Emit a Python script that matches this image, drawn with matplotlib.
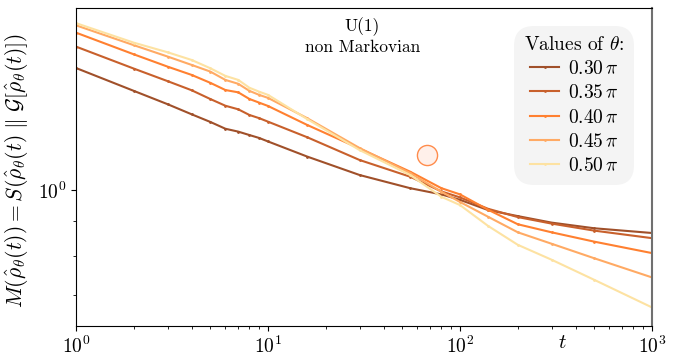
import matplotlib
matplotlib.use("Agg")
import matplotlib.pyplot as plt

plt.rcParams['font.family'] = 'serif'
plt.rcParams['font.serif'] = ['cmr10']
plt.rcParams['mathtext.fontset'] = 'cm'
plt.rcParams['axes.formatter.use_mathtext'] = True

# values (log-log)
t = [1, 2, 3, 4, 5, 6, 7, 8, 9, 10, 16, 30, 55, 80, 100, 140, 200, 300, 500, 1000]
m_030 = [1.513, 1.400, 1.338, 1.293, 1.260, 1.231, 1.219, 1.205, 1.193, 1.179,
         1.120, 1.052, 1.006, 0.985, 0.967, 0.934, 0.915, 0.895, 0.878, 0.864]
m_035 = [1.627, 1.510, 1.447, 1.403, 1.362, 1.331, 1.315, 1.290, 1.276, 1.261,
         1.196, 1.107, 1.046, 0.995, 0.975, 0.938, 0.912, 0.892, 0.871, 0.849]
m_040 = [1.706, 1.585, 1.520, 1.478, 1.439, 1.404, 1.393, 1.362, 1.345, 1.330,
         1.247, 1.151, 1.064, 1.006, 0.985, 0.935, 0.890, 0.866, 0.839, 0.807]
m_045 = [1.749, 1.635, 1.573, 1.529, 1.495, 1.453, 1.434, 1.400, 1.381, 1.367,
         1.276, 1.153, 1.059, 0.994, 0.960, 0.913, 0.866, 0.833, 0.793, 0.743]
m_050 = [1.762, 1.649, 1.596, 1.555, 1.512, 1.473, 1.453, 1.415, 1.396, 1.381,
         1.272, 1.145, 1.052, 0.977, 0.950, 0.885, 0.830, 0.789, 0.737, 0.671]

series = [m_030, m_035, m_040, m_045, m_050]
labels = [r'$0.30\,\pi$', r'$0.35\,\pi$', r'$0.40\,\pi$', r'$0.45\,\pi$', r'$0.50\,\pi$']
colors = ['#a0502a', '#c8602c', '#ff8030', '#ffaa64', '#fde2a2']

# highlighted point
mark_t = [67.3]
mark_m = [1.126]

fig = plt.figure(figsize=(6.94, 3.57), dpi=100)
ax = fig.add_axes([0.1095, 0.0868, 0.83, 0.8908])

for y, lab, c in zip(series, labels, colors):
    ax.plot(t, y, color=c, lw=1.5, marker='.', ms=2, label=lab)

ax.plot(mark_t, mark_m, 'o', ms=14.5, mfc='#fff0ea', mec='#ff8c4c', mew=1.0, zorder=5)

ax.set_xscale('log')
ax.set_yscale('log')
ax.set_xlim(1, 1000)
ax.set_ylim(0.630, 1.855)
ax.yaxis.set_minor_formatter(plt.NullFormatter())
ax.tick_params(labelsize=14)
ax.spines['right'].set_color('#707070')
ax.spines['right'].set_linewidth(1.5)

ax.set_ylabel(r'$M(\hat{\rho}_\theta(t)) = S(\hat{\rho}_\theta(t)\ \|\ \mathcal{G}[\hat{\rho}_\theta(t)])$',
              fontsize=15.5)
ax.yaxis.set_label_coords(-0.078, 0.49)
ax.set_xlabel(r'$t$', fontsize=15)
ax.xaxis.set_label_coords(0.845, -0.025)

ax.text(0.497, 0.97, 'U(1)\nnon Markovian', transform=ax.transAxes,
        ha='center', va='top', fontsize=12.5, linespacing=1.25)

leg = ax.legend(loc='upper right', title=r'Values of $\theta$:', fontsize=14,
                title_fontsize=14, frameon=True, fancybox=True, framealpha=1,
                handlelength=1.5, handletextpad=0.45, labelspacing=0.32,
                borderpad=0.5, borderaxespad=0.0,
                bbox_to_anchor=(0.969, 0.943))
leg.get_frame().set_facecolor('#f4f4f4')
leg.get_frame().set_edgecolor('none')
leg.get_frame().set_boxstyle('round,pad=0,rounding_size=1.0')

fig.savefig('out.png', dpi=100)
